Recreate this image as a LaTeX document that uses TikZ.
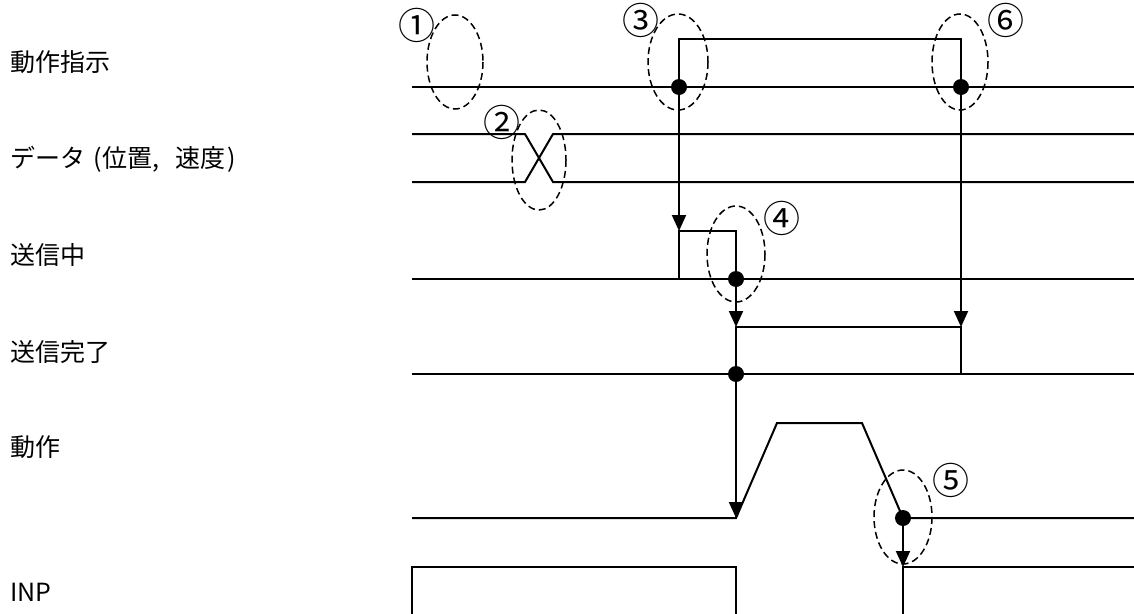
\documentclass[tikz,border=0pt]{standalone}
\usepackage{fontspec}
\setmainfont{Noto Sans CJK JP}
\usetikzlibrary{arrows.meta}
\begin{document}
\begin{tikzpicture}[x=1pt,y=-1pt,
  sig/.style={line width=2pt, line join=miter},
  conn/.style={line width=2pt, -{Triangle[width=14pt,length=16pt]}},
  dot/.style={circle, fill=black, inner sep=0pt, minimum size=16pt},
  ring/.style={line width=1.5pt, dash pattern=on 7pt off 4pt},
  lbl/.style={anchor=west, inner sep=0pt, font=\fontsize{25}{30}\selectfont},
  num/.style={inner sep=0pt, font=\fontsize{37}{40}\selectfont}]
\useasboundingbox (0,0) rectangle (1134,613);

% labels
\node[lbl] (l1) at (10,62) {動作指示};
\node[lbl] (l2) at (10,159) {データ\hspace{8pt}(\hspace{1pt}位置,\hspace{16pt}速度\hspace{2pt})};
\node[lbl] (l3) at (10,255) {送信中};
\node[lbl] (l4) at (10,352) {送信完了};
\node[lbl] (l5) at (10,447) {動作};
\node[lbl] (l6) at (10,592) {INP};

% key coordinates
\coordinate (a1) at (679,231);
\coordinate (a2) at (961,327);
\coordinate (a3) at (736,327);
\coordinate (a4) at (736,518);
\coordinate (a5) at (903,567);

% 動作指示
\draw[sig] (412,87) -- (1134,87);
\draw[sig] (679,87) -- (679,39) -- (961,39) -- (961,87);
% データ
\draw[sig] (412,134) -- (525,134) -- (553,182) -- (1134,182);
\draw[sig] (412,182) -- (525,182) -- (553,134) -- (1134,134);
% 送信中
\draw[sig] (412,279) -- (1134,279);
\draw[sig] (679,279) -- (679,231) -- (736,231) -- (736,279);
% 送信完了
\draw[sig] (412,374) -- (1134,374);
\draw[sig] (736,374) -- (736,327) -- (961,327) -- (961,374);
% 動作
\draw[sig] (412,518) -- (736,518) -- (777,423) -- (862,423) -- (903,518) -- (1134,518);
% INP
\draw[sig] (412,620) -- (412,567) -- (736,567) -- (736,620);
\draw[sig] (903,620) -- (903,567) -- (1134,567);

% dots
\node[dot] (d3) at (679,87) {};
\node[dot] (d6) at (961,87) {};
\node[dot] (d4) at (736,279) {};
\node[dot] (d5) at (736,374) {};
\node[dot] (d7) at (903,518) {};

% connectors
\draw[conn] (d3) -- (a1);
\draw[conn] (d6) -- (a2);
\draw[conn] (d4) -- (a3);
\draw[conn] (d5) -- (a4);
\draw[conn] (d7) -- (a5);

% dashed ellipses
\draw[ring] (455,62) ellipse [x radius=28, y radius=47];
\draw[ring] (539,160) ellipse [x radius=27, y radius=50];
\draw[ring] (678,62) ellipse [x radius=30, y radius=48];
\draw[ring] (960,62) ellipse [x radius=28, y radius=48];
\draw[ring] (736,254) ellipse [x radius=29, y radius=48];
\draw[ring] (903,517) ellipse [x radius=29, y radius=47];

% numbers
\node[num] (n1) at (417,25) {①};
\node[num] (n2) at (502,122) {②};
\node[num] (n3) at (641,20) {③};
\node[num] (n4) at (782,218) {④};
\node[num] (n5) at (951,480) {⑤};
\node[num] (n6) at (1006,20) {⑥};
\end{tikzpicture}
\end{document}
